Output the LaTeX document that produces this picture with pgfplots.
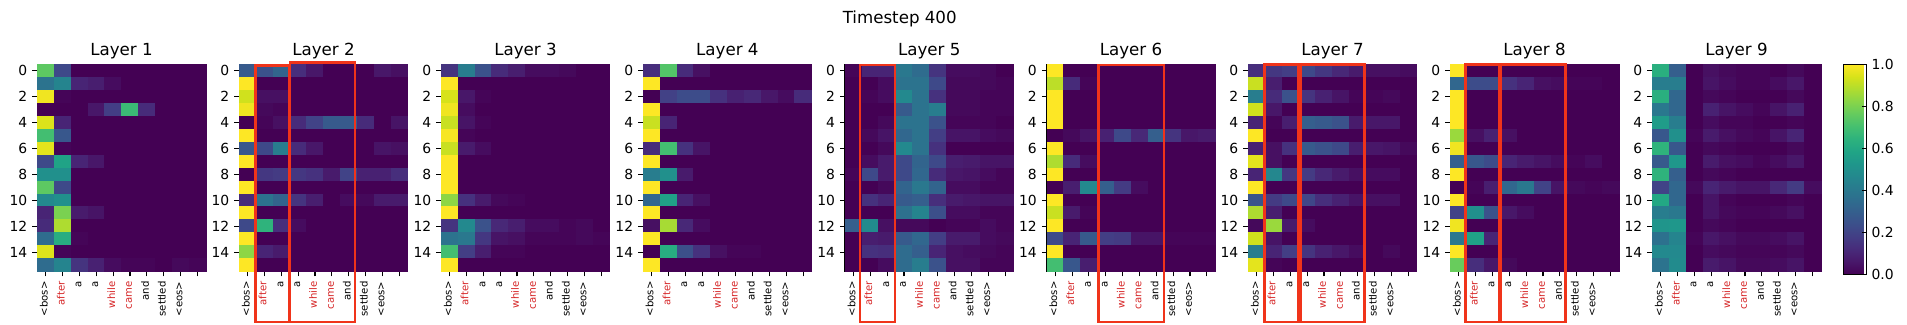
\documentclass[border=0pt]{standalone}
\usepackage{fontspec}
\setmainfont{DejaVu Sans}
\usepackage{pgfplots}
\usepackage{pgfplotstable}
\pgfplotsset{compat=1.18}
\definecolor{boxred}{HTML}{F0341A}
\definecolor{lblred}{HTML}{D62728}

% attention maps, one value per line of 10 columns, 16 rows
\pgfplotstableread[row sep=crcr,header=false]{
.75\\.22\\0\\0\\0\\0\\0\\0\\0\\0\\
.38\\.45\\.1\\.08\\.03\\0\\0\\0\\0\\0\\
.98\\.01\\0\\0\\0\\0\\0\\0\\0\\0\\
0\\0\\0\\.06\\.18\\.68\\.12\\0\\0\\0\\
.95\\.1\\0\\0\\0\\0\\0\\0\\0\\0\\
.7\\.27\\0\\0\\0\\0\\0\\0\\0\\0\\
.96\\.01\\0\\0\\0\\0\\0\\0\\0\\0\\
.22\\.58\\.1\\.06\\0\\0\\0\\0\\0\\0\\
.5\\.5\\0\\0\\0\\0\\0\\0\\0\\0\\
.75\\.22\\0\\0\\0\\0\\0\\0\\0\\0\\
.47\\.5\\0\\0\\0\\0\\0\\0\\0\\0\\
.1\\.8\\.07\\.05\\0\\0\\0\\0\\0\\0\\
.12\\.88\\0\\0\\0\\0\\0\\0\\0\\0\\
.35\\.62\\.01\\0\\0\\0\\0\\0\\0\\0\\
.95\\.01\\0\\0\\0\\0\\0\\0\\0\\0\\
.35\\.45\\.15\\.09\\.03\\.01\\.01\\0\\.02\\.01\\
}\layerA
\pgfplotstableread[row sep=crcr,header=false]{
.28\\.25\\.32\\.13\\.06\\0\\0\\0\\.06\\.04\\
1\\0\\0\\0\\0\\0\\0\\0\\0\\0\\
.93\\.04\\.04\\0\\0\\0\\0\\0\\0\\0\\
.98\\.02\\.01\\0\\0\\0\\0\\0\\0\\0\\
0\\.01\\.04\\.12\\.2\\.28\\.28\\.12\\0\\.05\\
1\\0\\0\\0\\0\\0\\0\\0\\0\\0\\
.27\\.22\\.42\\.12\\.06\\0\\0\\0\\.05\\.04\\
1\\0\\0\\0\\0\\0\\0\\0\\0\\0\\
0\\.16\\.17\\.16\\.14\\.07\\.2\\.09\\.09\\.13\\
1\\0\\0\\0\\0\\0\\0\\0\\0\\0\\
.12\\.38\\.32\\.15\\.08\\0\\.03\\.02\\.07\\.07\\
1\\0\\0\\0\\0\\0\\0\\0\\0\\0\\
.22\\.65\\.13\\.03\\0\\0\\0\\0\\0\\0\\
1\\0\\0\\0\\0\\0\\0\\0\\0\\0\\
.83\\.1\\.07\\0\\0\\0\\0\\0\\0\\0\\
1\\0\\0\\0\\0\\0\\0\\0\\0\\0\\
}\layerB
\pgfplotstableread[row sep=crcr,header=false]{
.15\\.42\\.25\\.12\\.08\\.03\\.03\\.02\\0\\0\\
1\\0\\0\\0\\0\\0\\0\\0\\0\\0\\
.94\\.06\\.01\\0\\0\\0\\0\\0\\0\\0\\
.98\\.03\\0\\0\\0\\0\\0\\0\\0\\0\\
.92\\.05\\.01\\0\\0\\0\\0\\0\\0\\0\\
.99\\.01\\0\\0\\0\\0\\0\\0\\0\\0\\
.92\\.07\\.03\\0\\0\\0\\0\\0\\0\\0\\
1\\0\\0\\0\\0\\0\\0\\0\\0\\0\\
1\\0\\0\\0\\0\\0\\0\\0\\0\\0\\
1\\0\\0\\0\\0\\0\\0\\0\\0\\0\\
.83\\.14\\.07\\.02\\.01\\0\\0\\0\\0\\0\\
1\\0\\0\\0\\0\\0\\0\\0\\0\\0\\
.15\\.47\\.25\\.11\\.08\\.03\\.03\\.01\\.02\\0\\
.38\\.4\\.16\\.05\\.04\\.01\\.01\\.01\\.02\\.01\\
.7\\.18\\.08\\.01\\.01\\0\\0\\0\\0\\0\\
1\\0\\0\\0\\0\\0\\0\\0\\0\\0\\
}\layerC
\pgfplotstableread[row sep=crcr,header=false]{
.13\\.73\\.12\\.04\\0\\0\\0\\0\\0\\0\\
1\\0\\0\\0\\0\\0\\0\\0\\0\\0\\
0\\.19\\.23\\.23\\.14\\.09\\.11\\.06\\.03\\.12\\
1\\0\\0\\0\\0\\0\\0\\0\\0\\0\\
.92\\.1\\0\\0\\0\\0\\0\\0\\0\\0\\
1\\0\\0\\0\\0\\0\\0\\0\\0\\0\\
.12\\.7\\.14\\.05\\0\\0\\0\\0\\0\\0\\
1\\0\\0\\0\\0\\0\\0\\0\\0\\0\\
.42\\.5\\.07\\0\\0\\0\\0\\0\\0\\0\\
1\\0\\0\\0\\0\\0\\0\\0\\0\\0\\
.33\\.57\\.1\\.04\\0\\0\\0\\0\\0\\0\\
1\\0\\0\\0\\0\\0\\0\\0\\0\\0\\
.04\\.87\\.11\\.03\\0\\0\\0\\0\\0\\0\\
1\\0\\0\\0\\0\\0\\0\\0\\0\\0\\
0\\.62\\.24\\.14\\.04\\.01\\.01\\0\\0\\0\\
1\\0\\0\\0\\0\\0\\0\\0\\0\\0\\
}\layerD
\pgfplotstableread[row sep=crcr,header=false]{
.01\\.1\\.1\\.4\\.35\\.15\\.03\\.03\\.02\\0\\
0\\0\\.03\\.38\\.38\\.22\\.02\\.02\\.02\\.01\\
0\\.01\\.03\\.47\\.38\\.14\\.02\\.02\\.01\\.01\\
0\\0\\0\\.28\\.38\\.42\\.02\\.02\\.01\\.01\\
0\\0\\.02\\.38\\.38\\.25\\.01\\.01\\.01\\0\\
0\\.02\\.05\\.33\\.38\\.18\\.05\\.05\\.03\\.02\\
0\\0\\.02\\.47\\.38\\.14\\0\\0\\0\\0\\
0\\.03\\.07\\.22\\.32\\.22\\.08\\.07\\.05\\.05\\
.01\\.22\\.07\\.22\\.33\\.12\\.06\\.05\\.03\\.01\\
0\\0\\.02\\.32\\.4\\.32\\.03\\.03\\.01\\.01\\
0\\.14\\.1\\.28\\.3\\.13\\.07\\.06\\.05\\.05\\
0\\0\\0\\.37\\.45\\.24\\.03\\.03\\.01\\.01\\
.3\\.48\\.04\\.02\\.02\\0\\.01\\.01\\.03\\.01\\
0\\.08\\.07\\.28\\.33\\.18\\.07\\.07\\.03\\.02\\
0\\.14\\.13\\.35\\.3\\.1\\.04\\.03\\.02\\.01\\
0\\0\\.03\\.35\\.42\\.25\\.04\\.04\\.01\\.01\\
}\layerE
\pgfplotstableread[row sep=crcr,header=false]{
1\\0\\0\\0\\0\\0\\0\\0\\0\\0\\
.9\\.12\\.01\\0\\0\\0\\0\\0\\0\\0\\
1\\0\\0\\0\\0\\0\\0\\0\\0\\0\\
1\\0\\0\\0\\0\\0\\0\\0\\0\\0\\
1\\0\\0\\0\\0\\0\\0\\0\\0\\0\\
0\\.02\\.05\\.09\\.22\\.11\\.3\\.15\\.06\\.07\\
1\\0\\0\\0\\0\\0\\0\\0\\0\\0\\
.88\\.12\\.03\\0\\0\\0\\0\\0\\0\\0\\
1\\0\\0\\0\\0\\0\\0\\0\\0\\0\\
0\\.08\\.47\\.3\\.17\\.03\\0\\0\\0\\0\\
1\\0\\0\\0\\0\\0\\0\\0\\0\\0\\
.92\\.07\\.01\\0\\0\\0\\0\\0\\0\\0\\
1\\0\\0\\0\\0\\0\\0\\0\\0\\0\\
.22\\.1\\.28\\.18\\.17\\.05\\.05\\.01\\.01\\.01\\
1\\0\\0\\0\\0\\0\\0\\0\\0\\0\\
.7\\.27\\.08\\0\\0\\0\\0\\0\\0\\0\\
}\layerF
\pgfplotstableread[row sep=crcr,header=false]{
.13\\.16\\.18\\.22\\.16\\.11\\.07\\.04\\.04\\.03\\
.92\\.08\\0\\0\\0\\0\\0\\0\\0\\0\\
.42\\.12\\.25\\.15\\.09\\.05\\.01\\.01\\.02\\0\\
.93\\.06\\0\\0\\0\\0\\0\\0\\0\\0\\
.1\\.01\\.08\\.3\\.28\\.25\\.07\\.06\\.06\\0\\
1\\0\\0\\0\\0\\0\\0\\0\\0\\0\\
.09\\.04\\.14\\.28\\.25\\.22\\.08\\.06\\.05\\.02\\
.96\\.04\\0\\0\\0\\0\\0\\0\\0\\0\\
.1\\.46\\.16\\.17\\.11\\.07\\.04\\.03\\.03\\0\\
1\\0\\0\\0\\0\\0\\0\\0\\0\\0\\
.26\\.17\\.22\\.21\\.13\\.09\\.05\\.04\\.04\\0\\
.88\\.08\\0\\0\\0\\0\\0\\0\\0\\0\\
.02\\.85\\.07\\.03\\0\\0\\0\\0\\0\\0\\
.93\\.05\\0\\0\\0\\0\\0\\0\\0\\0\\
.42\\.1\\.18\\.15\\.09\\.06\\.03\\0\\.02\\0\\
.96\\.01\\0\\0\\0\\0\\0\\0\\0\\0\\
}\layerG
\pgfplotstableread[row sep=crcr,header=false]{
1\\0\\0\\0\\0\\0\\0\\0\\0\\0\\
.33\\.23\\.23\\.14\\.1\\.04\\.03\\.01\\.01\\0\\
1\\0\\0\\0\\0\\0\\0\\0\\0\\0\\
1\\0\\0\\0\\0\\0\\0\\0\\0\\0\\
1\\0\\0\\0\\0\\0\\0\\0\\0\\0\\
.85\\.04\\.09\\.04\\0\\0\\0\\0\\0\\0\\
.98\\0\\0\\0\\0\\0\\0\\0\\0\\0\\
.3\\.27\\.23\\.1\\.07\\.05\\.03\\.01\\.03\\0\\
1\\0\\0\\0\\0\\0\\0\\0\\0\\0\\
0\\.01\\.08\\.33\\.4\\.2\\.05\\.02\\.01\\.02\\
1\\0\\0\\0\\0\\0\\0\\0\\0\\0\\
.2\\.5\\.25\\.06\\.03\\0\\0\\0\\0\\0\\
.98\\0\\0\\0\\0\\0\\0\\0\\0\\0\\
.4\\.57\\.1\\0\\0\\0\\0\\0\\0\\0\\
1\\0\\0\\0\\0\\0\\0\\0\\0\\0\\
.77\\.13\\.06\\.02\\0\\0\\0\\0\\0\\0\\
}\layerH
\pgfplotstableread[row sep=crcr,header=false]{
.63\\.3\\0\\.04\\.02\\.01\\.01\\0\\.02\\0\\
.42\\.42\\0\\.05\\.03\\.01\\.01\\.03\\.06\\0\\
.63\\.33\\0\\.02\\.01\\0\\0\\0\\.02\\0\\
.4\\.33\\0\\.09\\.05\\.03\\.01\\.05\\.09\\0\\
.55\\.42\\0\\.03\\.01\\.01\\0\\0\\.01\\0\\
.27\\.5\\.01\\.07\\.04\\.02\\.01\\.05\\.1\\0\\
.65\\.27\\0\\.02\\.01\\0\\0\\0\\.02\\0\\
.28\\.53\\0\\.07\\.04\\.03\\.01\\.03\\.06\\0\\
.65\\.3\\0\\.02\\.01\\0\\0\\0\\0\\0\\
.2\\.33\\.02\\.1\\.07\\.05\\.05\\.11\\.17\\.03\\
.6\\.33\\0\\.05\\.01\\0\\0\\0\\.01\\0\\
.42\\.4\\0\\.05\\.02\\.01\\.01\\.02\\.04\\0\\
.52\\.53\\0\\.02\\.01\\0\\0\\0\\0\\0\\
.37\\.45\\.01\\.06\\.04\\.02\\.02\\.03\\.05\\0\\
.47\\.47\\0\\.03\\.02\\.01\\.01\\.01\\.02\\0\\
.38\\.48\\0\\.07\\.05\\.02\\.02\\.03\\.05\\0\\
}\layerI

\tikzset{rbox/.style={draw=boxred,line width=2pt}}
\pgfplotsset{
  heat/.style={
    scale only axis,
    width=121.3pt,height=149.2pt,
    anchor=south west,
    y dir=reverse,
    xmin=-0.5,xmax=9.5,ymin=-0.5,ymax=15.5,
    xtick={0,...,9},ytick={0,2,...,14},
    xticklabels={{<bos>},\textcolor{lblred}{after},a,a,\textcolor{lblred}{while},\textcolor{lblred}{came},and,settled,{<eos>},},
    xtick pos=lower,xticklabel pos=lower,ytick pos=left,
    tick align=outside,
    major tick length=3.5pt,
    tick style={black,line width=0.8pt},
    axis line style={line width=0.8pt},
    x tick label style={xshift=1.4pt,rotate=90,anchor=base east,inner sep=0pt,font=\fontsize{7.3}{8}\selectfont},
    xticklabel shift=3.5pt,
    y tick label style={inner sep=0pt,font=\fontsize{10}{12}\selectfont},
    yticklabel shift=3.5pt,
    /pgf/number format/assume math mode=true,
    title style={at={(0.5,1)},anchor=base,inner sep=0pt,font=\fontsize{12}{14}\selectfont},
    clip=false,
    colormap/viridis,
    point meta min=0,point meta max=1,
  },
}
\newcommand{\heatmap}[4]{%
  \begin{axis}[heat,at={(#2*0.72pt,37.8pt)},title={Layer #1},#4]
  \addplot[matrix plot*,mesh/cols=10,point meta=explicit]
    table[x index=0,y index=0,x expr={mod(\coordindex,10)},y expr={floor((\coordindex+0.5)/10)},meta index=0]{#3};
  \csname boxes#1\endcsname
  \end{axis}}
% red boxes in data coordinates, they run down past the tick labels
\newcommand{\boxes}[3]{\draw[rbox] (axis cs:#1,#3) rectangle (axis cs:#2,19.4);}
\expandafter\def\csname boxes2\endcsname{\boxes{0.45}{2.47}{-0.42}\boxes{2.51}{6.37}{-0.62}}
\expandafter\def\csname boxes5\endcsname{\boxes{0.39}{2.47}{-0.45}}
\expandafter\def\csname boxes6\endcsname{\boxes{2.56}{6.45}{-0.45}}
\expandafter\def\csname boxes7\endcsname{\boxes{0.47}{2.49}{-0.47}\boxes{2.59}{6.4}{-0.47}}
\expandafter\def\csname boxes8\endcsname{\boxes{0.41}{2.41}{-0.47}\boxes{2.51}{6.35}{-0.47}}

\begin{document}
\begin{tikzpicture}
\node[anchor=base,font=\fontsize{12}{14}\selectfont,inner sep=0pt] at (647.8pt,216pt) {Timestep 400};
\heatmap{1}{37.3}{\layerA}{}
\heatmap{2}{239.2}{\layerB}{}
\heatmap{3}{441.2}{\layerC}{}
\heatmap{4}{643.1}{\layerD}{}
\heatmap{5}{845}{\layerE}{}
\heatmap{6}{1046.8}{\layerF}{}
\heatmap{7}{1248.2}{\layerG}{}
\heatmap{8}{1450.3}{\layerH}{}
\heatmap{9}{1652.3}{\layerI}{colorbar,colorbar style={
    at={(1.136,1)},anchor=north west,
    width=16.3pt,height=151.4pt,
    ytick={0,0.2,...,1},
    /pgf/number format/assume math mode=true,
    yticklabel style={inner sep=0pt,font=\fontsize{10}{12}\selectfont,/pgf/number format/.cd,fixed,fixed zerofill,precision=1,assume math mode=true},
    yticklabel shift=3.5pt,
    major tick length=3.5pt,
    tick style={black,line width=0.8pt},
    axis line style={line width=0.8pt},
    ytick pos=right,yticklabel pos=right,
  }}
\pgfresetboundingbox
\path[use as bounding box] (0,0) rectangle (1373.04pt,233.28pt);
\end{tikzpicture}
\end{document}
